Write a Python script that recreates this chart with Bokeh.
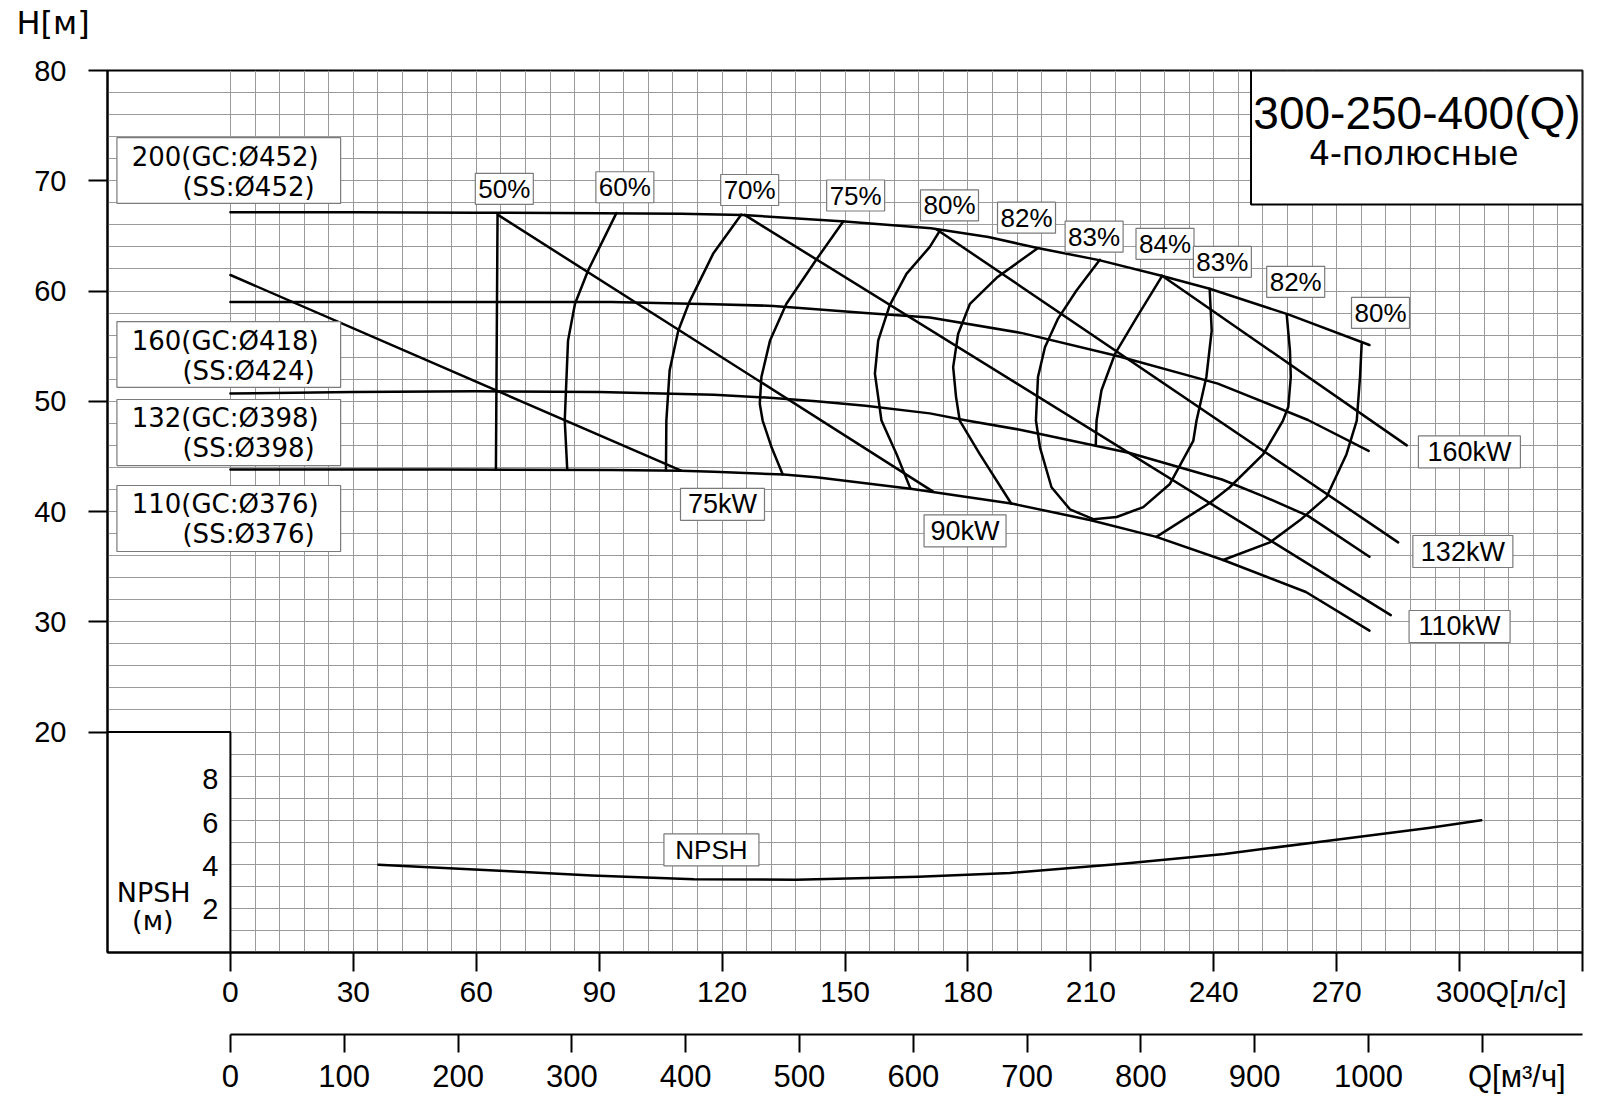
from bokeh.plotting import figure
from bokeh.models import Range1d, LinearAxis, FixedTicker, Grid, Title, AllLabels
from bokeh.core.properties import value
from bokeh.embed import file_html
from bokeh.resources import INLINE

# ---------------- data ----------------
# head curves, Q in l/s, H in m
H200_Q = [0, 30, 60, 90, 110, 125, 150, 171, 185, 197, 212, 227, 239, 258, 278]
H200_H = [67.15, 67.15, 67.1, 67.05, 67.0, 66.9, 66.3, 65.7, 64.9, 63.9, 62.8, 61.4, 60.2, 57.9, 55.1]

H160_Q = [0, 60, 93, 118, 132.5, 143, 155, 170.7, 193, 216.5, 241, 263, 277.8]
H160_H = [59.0, 59.0, 59.0, 58.8, 58.65, 58.35, 58.0, 57.6, 56.2, 54.1, 51.6, 48.3, 45.5]

H132_Q = [0, 30, 60, 90, 118, 132.5, 143, 155, 170.7, 179, 193, 219.5, 242, 252, 263, 278]
H132_H = [50.7, 50.85, 50.9, 50.85, 50.6, 50.3, 50.0, 49.6, 48.9, 48.3, 47.4, 45.3, 42.9, 41.4, 39.6, 35.9]

H110_Q = [0, 51, 93, 110, 118, 135, 143, 166, 171, 191, 210, 226, 242.3, 262.5, 278]
H110_H = [43.8, 43.8, 43.77, 43.7, 43.6, 43.36, 43.1, 42.06, 41.8, 40.7, 39.2, 37.7, 35.6, 32.7, 29.2]

# power limit lines
P75_Q, P75_H = [0, 110], [61.45, 43.7]
P90_Q, P90_H = [65.3, 171.5], [66.9, 41.8]
P110_Q, P110_H = [125.5, 283.2], [66.9, 30.6]
P132_Q, P132_H = [172.3, 285.0], [65.6, 37.2]
P160_Q, P160_H = [227.3, 287.1], [61.4, 46.0]

# iso-efficiency curves
E50_Q = [65.2, 64.8]
E50_H = [67.0, 43.8]
E60_Q = [94.2, 87.3, 84.1, 82.4, 81.9, 81.6, 82.2]
E60_H = [67.06, 61.86, 58.84, 55.5, 51.0, 48.25, 43.87]
E70_Q = [124.7, 117.8, 112.0, 109.3, 107.2, 106.4, 106.3]
E70_H = [66.94, 63.37, 58.99, 56.4, 52.8, 48.25, 43.75]
E75_Q = [149.6, 143.1, 135.7, 131.7, 129.6, 129.2, 129.9, 132.1, 134.8]
E75_H = [66.33, 62.9, 58.84, 55.5, 52.2, 49.77, 48.25, 45.8, 43.36]
E80L_Q = [173.2, 170.7, 165.0, 160.9, 158.1, 157.3, 158.9, 162.6, 166.0]
E80L_H = [65.5, 64.0, 61.55, 58.7, 55.5, 52.5, 48.25, 45.2, 42.05]
E82L_Q = [197.1, 187.0, 180.5, 177.6, 176.4, 177.1, 178.0, 182.9, 190.6]
E82L_H = [63.9, 61.2, 58.84, 56.1, 53.1, 50.4, 48.25, 45.2, 40.7]
E83_Q = [212.2, 206.5, 202.0, 198.8, 197.1, 196.6, 197.6, 200.4, 204.9, 210.6, 216.3, 222.8,
         229.3, 235.0, 235.8, 238.2, 239.5, 239.0]
E83_H = [62.83, 60.05, 57.5, 54.9, 52.2, 48.25, 45.8, 42.2, 40.2, 39.3, 39.5, 40.4,
         42.5, 46.4, 48.25, 52.2, 56.4, 60.2]
E84_Q = [227.3, 221.2, 215.9, 212.6, 211.4, 211.2]
E84_H = [61.3, 57.6, 54.3, 51.0, 48.25, 46.0]
E82R_Q = [257.8, 258.6, 258.8, 258.2, 256.9, 252.1, 243.9, 239.1, 226.0]
E82R_H = [57.9, 54.6, 52.2, 49.5, 48.25, 45.2, 42.2, 40.8, 37.7]
E80R_Q = [276.1, 275.7, 274.9, 272.4, 267.5, 261.0, 253.7, 242.3]
E80R_H = [55.2, 52.2, 48.25, 45.2, 41.3, 39.2, 37.2, 35.6]

# NPSH curve (m)
NPSH_Q = [36.1, 68.2, 88.2, 113.1, 138, 167.9, 190.3, 217.7, 242.6, 267.5, 292.4, 305.3]
NPSH_V = [4.05, 3.75, 3.55, 3.38, 3.36, 3.5, 3.67, 4.1, 4.55, 5.15, 5.75, 6.1]

# ticks
H_TICKS = [20, 30, 40, 50, 60, 70, 80]
Q_TICKS = [0, 30, 60, 90, 120, 150, 180, 210, 240, 270, 300]
M3H_TICKS = [0, 100, 200, 300, 400, 500, 600, 700, 800, 900, 1000]
NPSH_TICKS = [2, 4, 6, 8]

# labels
EFF_LABELS = ["50%", "60%", "70%", "75%", "80%", "82%", "83%", "84%", "83%", "82%", "80%"]
EFF_LABEL_Q = [66.85, 96.27, 126.73, 152.6, 175.5, 194.3, 210.8, 228.1, 242.1, 260.0, 280.7]
EFF_LABEL_H = [69.27, 69.41, 69.16, 68.66, 67.76, 66.65, 64.93, 64.28, 62.65, 60.83, 58.02]

KW_LABELS = ["75kW", "90kW", "110kW", "132kW", "160kW"]
KW_LABEL_Q = [120.1, 179.3, 300.0, 300.8, 302.4]
KW_LABEL_H = [40.65, 38.25, 29.57, 36.37, 45.4]
KW_BOX_W = [84, 82, 101, 100, 102]

IMP_LINE1 = ["200(GC:Ø452)", "160(GC:Ø418)", "132(GC:Ø398)", "110(GC:Ø376)"]
IMP_LINE2 = ["(SS:Ø452)", "(SS:Ø424)", "(SS:Ø398)", "(SS:Ø376)"]
IMP_BOX_TOP = [73.92, 57.23, 50.16, 42.36]
IMP_BOX_BOT = [67.94, 51.25, 44.17, 36.37]

TITLE = "300-250-400(Q)"
SUBTITLE = "4-полюсные"
H_UNIT = "H[м]"
Q_UNIT_LS = "Q[л/с]"
Q_UNIT_M3H = "Q[м³/ч]"

# ---------------- figure ----------------
PX_PER_M = 882 / 80.0
NPSH_SCALE = 1.965  # metres of head per metre NPSH on the drawing
NB = "\u00a0"

p = figure(width=1600, height=1105, x_range=Range1d(-30, 330), y_range=Range1d(0, 80),
           output_backend="svg", toolbar_location=None, title=None,
           x_axis_type=None, y_axis_type=None,
           min_border_left=107, min_border_right=18, min_border_top=70, min_border_bottom=153)
p.extra_x_ranges = {"m3h": Range1d(-30 * 3.6, 330 * 3.6)}
p.extra_y_ranges = {"npsh": Range1d(0, 80 / NPSH_SCALE)}
p.background_fill_color = "white"
p.border_fill_color = "white"
p.outline_line_color = "black"
p.outline_line_width = 2

GRID_COLOR = "#9a9a9a"
p.add_layout(Grid(dimension=0, ticker=FixedTicker(ticks=list(range(0, 331, 6))),
                  grid_line_color=GRID_COLOR, grid_line_width=1))
p.add_layout(Grid(dimension=1, ticker=FixedTicker(ticks=list(range(0, 81, 2))),
                  grid_line_color=GRID_COLOR, grid_line_width=1))

# axes
yax = LinearAxis(ticker=FixedTicker(ticks=H_TICKS),
                 major_label_overrides={t: str(t) for t in H_TICKS},
                 major_tick_out=19, major_tick_in=0, minor_tick_out=0, minor_tick_in=0,
                 axis_line_width=2, major_tick_line_width=2,
                 major_label_text_font="Liberation Sans", major_label_text_font_size="29px",
                 major_label_text_color="black", major_label_standoff=22)
p.add_layout(yax, "left")

ov1 = {t: str(t) for t in Q_TICKS}
ov1[300] = NB * 10 + "300" + Q_UNIT_LS
ov1[330] = ""
xax1 = LinearAxis(ticker=FixedTicker(ticks=Q_TICKS + [330]), major_label_overrides=ov1,
                  major_label_policy=AllLabels(),
                  major_tick_out=19, major_tick_in=0, minor_tick_out=0, minor_tick_in=0,
                  axis_line_width=2, major_tick_line_width=2,
                  major_label_text_font="Liberation Sans", major_label_text_font_size="30px",
                  major_label_text_color="black", major_label_standoff=3,
                  axis_label=NB, axis_label_text_font_size="16px", axis_label_standoff=4)
p.add_layout(xax1, "below")

ov2 = {t: str(t) for t in M3H_TICKS}
ov2[1100] = NB * 8 + Q_UNIT_M3H
xax2 = LinearAxis(x_range_name="m3h", ticker=FixedTicker(ticks=M3H_TICKS + [1100]),
                  major_label_overrides=ov2, bounds=(0, 330 * 3.6),
                  major_label_policy=AllLabels(),
                  major_tick_out=18, major_tick_in=0, minor_tick_out=0, minor_tick_in=0,
                  axis_line_width=2, major_tick_line_width=2,
                  major_label_text_font="Liberation Sans", major_label_text_font_size="31px",
                  major_label_text_color="black", major_label_standoff=6)
p.add_layout(xax2, "below")

# "H[м]" in the top border (a blank spacer title sits between it and the frame)
p.add_layout(Title(text=NB, standoff=2, text_font_size="22px", text_font_style="normal"), "above")
p.add_layout(Title(text=H_UNIT, align="left", offset=-91, standoff=0, vertical_align="bottom",
                   text_font="DejaVu Sans", text_font_size="32px", text_font_style="normal",
                   text_color="black"), "above")

# white boxes (NPSH scale box and title box)
p.quad(left=[-30], right=[0], bottom=[0], top=[20], fill_color="white",
       line_color="black", line_width=2)
p.quad(left=[249.1], right=[330], bottom=[67.85], top=[80], fill_color="white",
       line_color="black", line_width=2)

LW = 2.5
for qs, hs in [(H200_Q, H200_H), (H160_Q, H160_H), (H132_Q, H132_H), (H110_Q, H110_H),
               (P75_Q, P75_H), (P90_Q, P90_H), (P110_Q, P110_H), (P132_Q, P132_H), (P160_Q, P160_H),
               (E50_Q, E50_H), (E60_Q, E60_H), (E70_Q, E70_H), (E75_Q, E75_H), (E80L_Q, E80L_H),
               (E82L_Q, E82L_H), (E83_Q, E83_H), (E84_Q, E84_H), (E82R_Q, E82R_H), (E80R_Q, E80R_H)]:
    p.line(qs, hs, line_color="black", line_width=LW, line_join="round", line_cap="round")

p.line(NPSH_Q, NPSH_V, y_range_name="npsh", line_color="black", line_width=LW,
       line_join="round", line_cap="round")

BOX_LINE = "#7a7a7a"
AR = value("Liberation Sans")
DJ = value("DejaVu Sans")

# efficiency labels
p.rect(EFF_LABEL_Q, EFF_LABEL_H, width=58, height=31, width_units="screen", height_units="screen",
       fill_color="white", line_color=BOX_LINE, line_width=1.2)
p.text(EFF_LABEL_Q, EFF_LABEL_H, text=EFF_LABELS, text_font=AR, text_font_size="26px",
       text_align="center", text_baseline="middle", text_color="black")

# power labels
p.rect(KW_LABEL_Q, KW_LABEL_H, width=KW_BOX_W, height=32, width_units="screen", height_units="screen",
       fill_color="white", line_color=BOX_LINE, line_width=1.2)
p.text(KW_LABEL_Q, KW_LABEL_H, text=KW_LABELS, text_font=AR, text_font_size="27px",
       text_align="center", text_baseline="middle", text_color="black")

# NPSH label
p.rect([117.4], [9.30], width=95, height=32, width_units="screen", height_units="screen",
       fill_color="white", line_color=BOX_LINE, line_width=1.2)
p.text([117.4], [9.30], text=["NPSH"], text_font=AR, text_font_size="26px",
       text_align="center", text_baseline="middle", text_color="black")

# impeller boxes
p.quad(left=[-27.7] * 4, right=[26.9] * 4, top=IMP_BOX_TOP, bottom=IMP_BOX_BOT,
       fill_color="white", line_color=BOX_LINE, line_width=1.2)
line1_y = [t - 19 / PX_PER_M for t in IMP_BOX_TOP]
line2_y = [t - 49 / PX_PER_M for t in IMP_BOX_TOP]
p.text([-24.1] * 4, line1_y, text=IMP_LINE1, text_font=DJ, text_font_size="26px",
       text_align="left", text_baseline="middle", text_color="black")
p.text([-11.7] * 4, line2_y, text=IMP_LINE2, text_font=DJ, text_font_size="26px",
       text_align="left", text_baseline="middle", text_color="black")

# title box texts
p.text([289.6], [76.15], text=[TITLE], text_font=AR, text_font_size="46px",
       text_align="center", text_baseline="middle", text_color="black")
p.text([288.8], [72.45], text=[SUBTITLE], text_font=DJ, text_font_size="33px",
       text_align="center", text_baseline="middle", text_color="black")

# NPSH scale labels
p.text([-2.93] * 4, NPSH_TICKS, text=[str(t) for t in NPSH_TICKS], y_range_name="npsh",
       text_font=AR, text_font_size="29px", text_align="right", text_baseline="middle",
       text_color="black")
p.text([-18.72], [5.47], text=["NPSH"], text_font=DJ, text_font_size="27px",
       text_align="center", text_baseline="middle", text_color="black")
p.text([-18.94], [2.86], text=["(м)"], text_font=DJ, text_font_size="27px",
       text_align="center", text_baseline="middle", text_color="black")

open("out.html", "w").write(file_html(p, INLINE))
